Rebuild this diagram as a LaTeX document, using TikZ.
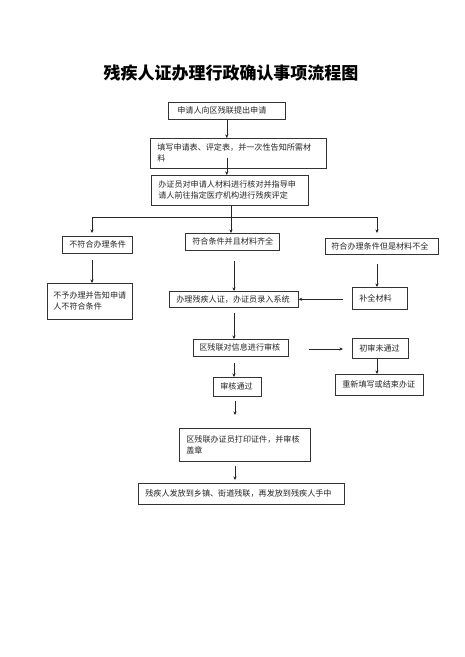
\documentclass[tikz,border=0pt]{standalone}
\usepackage{fontspec}
\newfontfamily\cjk{Noto Sans CJK SC}
\usetikzlibrary{arrows.meta}
\tikzset{
  box/.style={draw=black!80, line width=0.6pt, anchor=north west, align=left,
    inner xsep=7pt, inner ysep=1pt, font=\cjk\fontsize{8.1}{11}\selectfont, text=black!85},
  arr/.style={draw=black!85, line width=0.55pt, -{Stealth[length=3.6pt,width=3.2pt]}},
  ln/.style={draw=black!85, line width=0.55pt}
}
\begin{document}
\begin{tikzpicture}[x=1pt,y=-1pt]
\useasboundingbox[fill=white] (0,0) rectangle (465,657);
\node[font=\cjk\bfseries\fontsize{17}{17}\selectfont] (title) at (231,73) {残疾人证办理行政确认事项流程图};
% boxes: (x0,y0), width w, height h
\node[box, minimum width=117, minimum height=17, inner xsep=9pt, text width=99] (b1) at (168,102) {申请人向区残联提出申请};
\node[box, minimum width=176, minimum height=30, text width=162] (b2) at (150,138) {填写申请表、评定表，并一次性告知所需材\\料};
\node[box, minimum width=157, minimum height=30, text width=143] (b3) at (151,175) {办证员对申请人材料进行核对并指导申\\请人前往指定医疗机构进行残疾评定};
\node[box, minimum width=70, minimum height=17, text width=56] (L1) at (62,236) {不符合办理条件};
\node[box, minimum width=94, minimum height=17, text width=80] (M1) at (185,233) {符合条件并且材料齐全};
\node[box, minimum width=113, minimum height=16, inner xsep=6pt, text width=101] (R1) at (325,238) {符合办理条件但是材料不全};
\node[box, minimum width=85, minimum height=36, inner xsep=6pt, text width=73] (L2) at (47,283) {不予办理并告知申请\\人不符合条件};
\node[box, minimum width=129, minimum height=16, text width=115] (M2) at (169,291) {办理残疾人证，办证员录入系统};
\node[box, minimum width=55, minimum height=22, text width=41] (R2) at (352,287) {补全材料};
\node[box, minimum width=95, minimum height=17, inner xsep=6pt, text width=83] (C1) at (193,339) {区残联对信息进行审核};
\node[box, minimum width=56, minimum height=20, text width=42] (C2) at (352,338) {初审未通过};
\node[box, minimum width=88, minimum height=21, text width=74] (C3) at (335,374) {重新填写或结束办证};
\node[box, minimum width=48, minimum height=19, text width=34] (D1) at (213,377) {审核通过};
\node[box, minimum width=131, minimum height=33, text width=117] (E1) at (179,428) {区残联办证员打印证件，并审核\\盖章};
\node[box, minimum width=206, minimum height=21, text width=192] (F1) at (138,483) {残疾人发放到乡镇、街道残联，再发放到残疾人手中};
% helper coordinates
\coordinate (sp) at (231,217);
\coordinate (hl) at (92,217);
\coordinate (hr) at (377,217);
\coordinate (mc) at (234,0);
\coordinate (ec) at (235,0);
% connectors
\draw[arr] (b1.south) -- (b1.south |- b2.north);
\draw[arr, shorten <=-11pt] (b2.south -| b1.south) -- (b3.north -| b1.south);
\draw[ln] (b3.south -| sp) -- (sp);
\draw[ln] (hl) -- (hr);
\draw[arr, shorten >=3pt] (hl) -- (hl |- L1.north);
\draw[arr] (sp) -- (sp |- M1.north);
\draw[arr, shorten >=5pt] (hr) -- (hr |- R1.north);
\draw[arr, shorten <=6pt] (L1.south -| hl) -- (L2.north -| hl);
\draw[arr, shorten <=10pt] (M1.south -| mc) -- (M2.north -| mc);
\draw[arr, shorten <=9pt] (R1.south -| hr) -- (R2.north -| hr);
\draw[arr, shorten <=9pt] (R2.west |- M2.east) -- (M2.east);
\draw[arr, shorten <=5pt] (M2.south -| mc) -- (C1.north -| mc);
\draw[arr, shorten <=20pt, shorten >=9pt] (C1.east |- 0,349) -- (C2.west |- 0,349);
\draw[arr] (C2.south -| hr) -- (C3.north -| hr);
\draw[arr, shorten <=6pt] (C1.south -| mc) -- (D1.north -| mc);
\draw[arr, shorten <=4pt, shorten >=13pt] (D1.south -| ec) -- (E1.north -| ec);
\draw[arr, shorten <=4pt, shorten >=3pt] (E1.south -| ec) -- (F1.north -| ec);
\end{tikzpicture}
\end{document}
